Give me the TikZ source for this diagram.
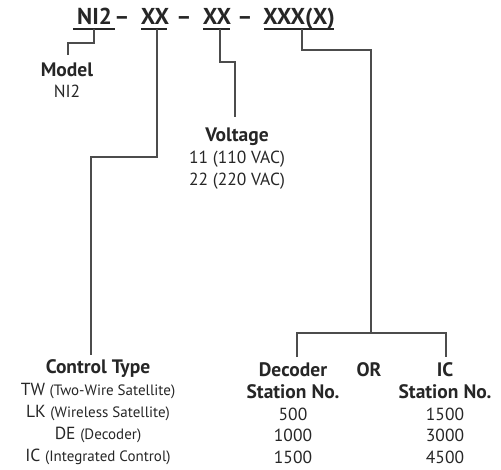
\documentclass[tikz,border=0pt]{standalone}
\usepackage{fontspec}
\setmainfont{PT Sans}
\newcommand{\sm}[1]{{\fontsize{15}{18}\selectfont #1}}
\begin{document}
\begin{tikzpicture}[x=1pt,y=-1pt,
  lbl/.style={font=\fontsize{17.5}{20}\selectfont, inner sep=0pt, anchor=base, text=black!85},
  hdr/.style={font=\fontsize{19.5}{22}\selectfont\bfseries, inner sep=0pt, anchor=base, text=black!85},
  ttl/.style={font=\fontsize{23}{26}\selectfont\bfseries, inner sep=0pt, anchor=base, text=black!85},
  conn/.style={draw=black!70, line width=1.1pt},
  uline/.style={draw=black!85, line width=1.8pt}]
\useasboundingbox (0,0) rectangle (501,469);
% title
\node[ttl] (t1) at (94.5,24) {NI2};
\node[ttl] (d1) at (122,24) {–};
\node[ttl] (t2) at (155,24) {XX};
\node[ttl] (d2) at (184,24) {–};
\node[ttl] (t3) at (217,24) {XX};
\node[ttl] (d3) at (245,24) {–};
\node[ttl] (t4) at (299,24) {XXX(X)};
\draw[uline] (73,28.8) -- (115,28.8);
\draw[uline] (141,28.8) -- (167,28.8);
\draw[uline] (203,28.8) -- (230,28.8);
\draw[uline] (264,28.8) -- (334,28.8);
% Model
\node[hdr] (m1) at (67,76) {Model};
\node[lbl] (m2) at (67,97) {NI2};
% Voltage
\node[hdr] (v1) at (237,141) {Voltage};
\node[lbl] (v2) at (237,163) {11 (110 VAC)};
\node[lbl] (v3) at (237,185) {22 (220 VAC)};
% Control type
\node[hdr] (c0) at (98,373) {Control Type};
\node[lbl] (c1) at (98,395) {TW \sm{(Two-Wire Satellite)}};
\node[lbl] (c2) at (98,417) {LK \sm{(Wireless Satellite)}};
\node[lbl] (c3) at (98,439) {DE \sm{(Decoder)}};
\node[lbl] (c4) at (98,461) {IC \sm{(Integrated Control)}};
% Decoder
\node[hdr] (s0) at (293,376) {Decoder};
\node[hdr] (s1) at (293,398) {Station No.};
\node[lbl] (s2) at (293,420) {500};
\node[lbl] (s3) at (293,441) {1000};
\node[lbl] (s4) at (293,463) {1500};
\node[hdr] (or) at (369,376) {OR};
\node[hdr] (i0) at (445,376) {IC};
\node[hdr] (i1) at (445,398) {Station No.};
\node[lbl] (i2) at (445,420) {1500};
\node[lbl] (i3) at (445,441) {3000};
\node[lbl] (i4) at (445,463) {4500};
% connectors
\coordinate (a1) at (94,28.8);
\coordinate (e1) at (68,55);
\coordinate (a2) at (157,28.8);
\coordinate (e2) at (91,355);
\coordinate (a3) at (220,28.8);
\coordinate (e3) at (235,117);
\coordinate (a4) at (302,28.8);
\coordinate (j4) at (371,333);
\coordinate (e4l) at (297,357);
\coordinate (e4r) at (446,357);
\draw[conn] (a1) |- (81,43) -| (e1);
\draw[conn] (a2) |- (120,157) -| (e2);
\draw[conn] (a3) |- (228,62) -| (e3);
\draw[conn] (a4) |- (340,50) -| (j4);
\draw[conn] (e4l) |- (j4) -| (e4r);
\end{tikzpicture}
\end{document}
